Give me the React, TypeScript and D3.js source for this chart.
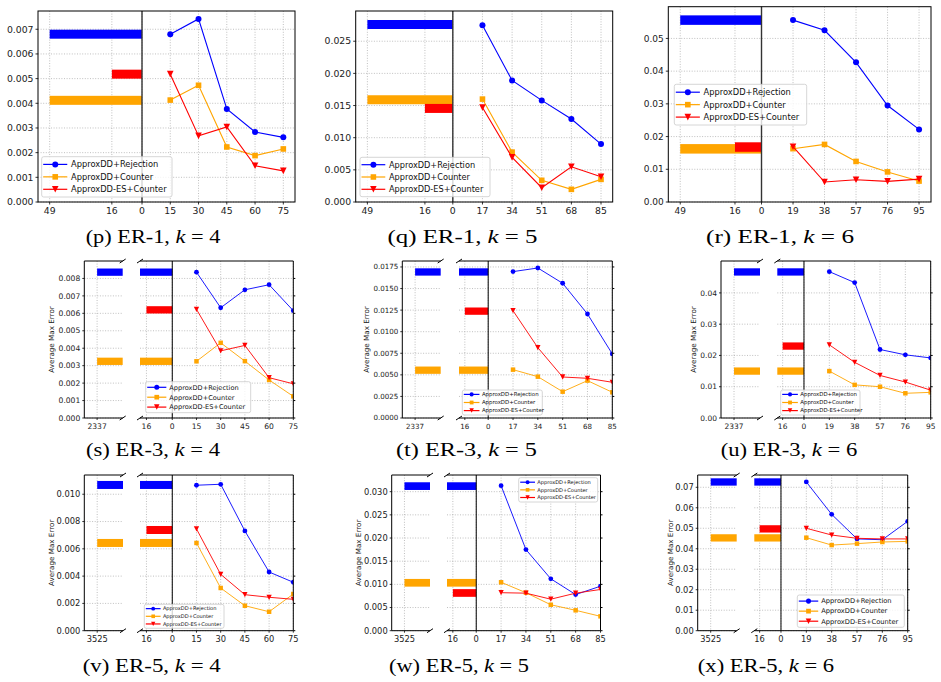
import React from 'react';
import * as d3 from 'd3';

// panels p..x: rows are graphs (ER-1, ER-3, ER-5), columns are k = 4, 5, 6
const panelLetters = ['p', 'q', 'r', 's', 't', 'u', 'v', 'w', 'x'];
const graphNames = ['ER-1', 'ER-3', 'ER-5'];
const kValues = [4, 5, 6];
const xTicksByK = [
  [15, 30, 45, 60, 75],
  [17, 34, 51, 68, 85],
  [19, 38, 57, 76, 95],
];
const fullStart = [49, 2337, 3525]; // where the Rejection / Counter bars start, per graph
const esStart = 16;

const seriesNames = ['ApproxDD+Rejection', 'ApproxDD+Counter', 'ApproxDD-ES+Counter'];
const seriesColors = ['#0000ff', '#ffa500', '#ff0000'];

// Average max error, one list per panel
const rejection = [
  [0.0068, 0.00742, 0.00377, 0.00284, 0.00262],
  [0.0275, 0.0189, 0.0158, 0.0129, 0.009],
  [0.0556, 0.0525, 0.0427, 0.0295, 0.0222],
  [0.00836, 0.00632, 0.00735, 0.00764, 0.00615],
  [0.01696, 0.01738, 0.01561, 0.01205, 0.00742],
  [0.0468, 0.0433, 0.0219, 0.0202, 0.0192],
  [0.01066, 0.01073, 0.00731, 0.0043, 0.00355],
  [0.0313, 0.0175, 0.0112, 0.0078, 0.0096],
  [0.0726, 0.0568, 0.0448, 0.0444, 0.0534],
];
const counter = [
  [0.00413, 0.00473, 0.00223, 0.00188, 0.00215],
  [0.016, 0.00776, 0.00337, 0.00197, 0.00352],
  [0.0163, 0.0176, 0.0124, 0.0092, 0.0064],
  [0.00325, 0.00431, 0.00326, 0.00218, 0.00124],
  [0.0056, 0.00479, 0.00305, 0.00433, 0.00298],
  [0.015, 0.0106, 0.01, 0.0079, 0.0082],
  [0.00643, 0.00313, 0.00183, 0.00139, 0.00269],
  [0.01045, 0.0082, 0.0056, 0.0044, 0.0031],
  [0.0454, 0.0418, 0.0425, 0.0433, 0.0436],
];
const esCounter = [
  [0.00518, 0.00268, 0.00304, 0.00147, 0.00126],
  [0.0147, 0.00694, 0.00222, 0.00548, 0.00393],
  [0.0169, 0.0061, 0.0068, 0.0063, 0.007],
  [0.00623, 0.00385, 0.00416, 0.00231, 0.00196],
  [0.01243, 0.00815, 0.00475, 0.0046, 0.00414],
  [0.0234, 0.0178, 0.0136, 0.0115, 0.0089],
  [0.00746, 0.00413, 0.00264, 0.00245, 0.0023],
  [0.0082, 0.0081, 0.0068, 0.0081, 0.0089],
  [0.05, 0.0467, 0.0451, 0.0448, 0.0448],
];
const barRejection = [0.0068, 0.0276, 0.0556, 0.00836, 0.01692, 0.0467, 0.01068, 0.0312, 0.0726];
const barCounter = [0.00412, 0.0159, 0.01625, 0.00325, 0.00554, 0.015, 0.00643, 0.01034, 0.0453];
const barEs = [0.00518, 0.01455, 0.0168, 0.0062, 0.01238, 0.023, 0.00738, 0.00814, 0.0497];

// y axes
const yTop = [0.00774, 0.0297, 0.0597, 0.009, 0.01819, 0.0502, 0.01141, 0.0336, 0.076];
const yStep = [0.001, 0.005, 0.01, 0.001, 0.0025, 0.01, 0.002, 0.005, 0.01];
const yTickMax = [0.007, 0.025, 0.05, 0.008, 0.0175, 0.04, 0.01, 0.03, 0.07];
const yDecimals = [3, 3, 2, 3, 4, 2, 3, 3, 2];

// layout of each panel (pixels)
const geo = [
  { x0: 38, x1: 295, y0: 11, y1: 202, fs: 9.3, barH: 9, ms: 1, lg: [41.7, 156.7, 130.3, 40.3, 8.3], cap: [153, 243, 134.7] },
  { x0: 355.7, x1: 612.7, y0: 11, y1: 202, fs: 9.3, barH: 9, ms: 1, lg: [360, 157.3, 130, 39.4, 8.2], cap: [462.5, 243, 150] },
  { x0: 668.3, x1: 931, y0: 6.7, y1: 202, fs: 9.0, barH: 9.5, ms: 1, lg: [674.3, 84.3, 132.4, 40.7, 8.3], cap: [780, 243, 148] },
  { lx0: 84.3, lx1: 122.7, x0: 140, x1: 293.3, y0: 261, y1: 418, fs: 7.6, barH: 7.3, ms: 0.8, lg: [145.7, 381.7, 105, 31, 6.6], cap: [153, 456, 134], ylab: 51.7 },
  { lx0: 402.3, lx1: 440.7, x0: 459, x1: 612.3, y0: 261, y1: 418, fs: 7.1, barH: 7.3, ms: 0.8, lg: [462.3, 390, 80, 25, 5.4], cap: [466.5, 456, 141], ylab: 366.7 },
  { lx0: 721, lx1: 760, x0: 777.3, x1: 930.7, y0: 261, y1: 418, fs: 7.5, barH: 7.3, ms: 0.8, lg: [780.7, 390, 79.3, 25, 5.4], cap: [789, 456, 136.6], ylab: 693.3 },
  { lx0: 84.3, lx1: 123, x0: 140, x1: 293.3, y0: 475, y1: 630.7, fs: 8.3, barH: 8, ms: 0.8, lg: [144.3, 604.3, 79.7, 24, 5.1], cap: [151.7, 672, 138], ylab: 51.7 },
  { lx0: 391.7, lx1: 430, x0: 447, x1: 600.5, y0: 475, y1: 630.7, fs: 8.3, barH: 7.7, ms: 0.8, lg: [518.7, 477.7, 79, 24.3, 5.1], cap: [459, 672, 140], ylab: 358.3 },
  { lx0: 697.7, lx1: 736.7, x0: 754.3, x1: 907.7, y0: 475, y1: 630.7, fs: 8.3, barH: 7.3, ms: 0.8, lg: [797.3, 595, 107, 32.3, 6.7], cap: [766, 672, 136.3], ylab: 670.7 },
];

const FONT = '"DejaVu Sans", sans-serif';
const GRID = '#b0b0b0';

function Marker({ kind, x, y, s, color }: { kind: number; x: number; y: number; s: number; color: string }) {
  if (kind === 0) return <circle cx={x} cy={y} r={s * 3} fill={color} />;
  if (kind === 1) return <rect x={x - s * 2.8} y={y - s * 2.8} width={s * 5.6} height={s * 5.6} fill={color} />;
  const h = s * 3.3;
  return <path d={`M${x - h},${y - h}L${x + h},${y - h}L${x},${y + h}Z`} fill={color} />;
}

function Legend({ box, ms }: { box: number[]; ms: number }) {
  const [bx, by, bw, bh, fs] = box;
  const sp = fs * 1.5;
  const pad = (bh - 2 * sp) / 2;
  const hl = fs * 2.9;
  const mk = (fs / 8.3) * (ms === 1 ? 1 : 1.05);
  return (
    <g>
      <rect x={bx} y={by} width={bw} height={bh} rx={2} fill="white" fillOpacity={0.8} stroke="#cccccc" strokeWidth={0.8} />
      {seriesNames.map((name, j) => {
        const cy = by + pad + j * sp;
        return (
          <g key={name}>
            <line x1={bx + 1.5} x2={bx + 1.5 + hl} y1={cy} y2={cy} stroke={seriesColors[j]} strokeWidth={1.2} />
            <Marker kind={j} x={bx + 1.5 + hl / 2} y={cy} s={mk} color={seriesColors[j]} />
            <text x={bx + 1.5 + hl + fs * 0.45} y={cy} dy="0.35em" fontSize={fs} fontFamily={FONT} fill="#111">{name}</text>
          </g>
        );
      })}
    </g>
  );
}

function Panel({ i }: { i: number }) {
  const g: any = geo[i];
  const row = Math.floor(i / 3);
  const col = i % 3;
  const xs = xTicksByK[col];
  const L = fullStart[row];
  const xmax = xs[xs.length - 1];
  const broken = row > 0;

  const y = d3.scaleLinear().domain([0, yTop[i]]).range([g.y1, g.y0]);
  const yTicks = d3.range(0, yTickMax[i] + yStep[i] / 2, yStep[i]);
  const fmt = d3.format(`.${yDecimals[i]}f`);

  let xR: d3.ScaleLinear<number, number>;
  let xL: d3.ScaleLinear<number, number> | null = null;
  if (!broken) {
    const m = 0.05 * (xmax + L);
    xR = d3.scaleLinear().domain([-L - m, xmax + m]).range([g.x0, g.x1]);
  } else {
    xR = d3.scaleLinear().domain([-20, xmax]).range([g.x0, g.x1]);
    xL = d3.scaleLinear().domain([-(L + 10), -(L - 20)]).range([g.lx0, g.lx1]);
  }
  const rightTicks = broken ? [-esStart, 0, ...xs] : [-L, -esStart, 0, ...xs];
  const series = [rejection[i], counter[i], esCounter[i]];
  const bars = [
    { v: barRejection[i], from: -L, c: 0 },
    { v: barCounter[i], from: -L, c: 1 },
    { v: barEs[i], from: -esStart, c: 2 },
  ];
  const lw = row === 0 ? 1.1 : 0.9;
  const tickLen = row === 0 ? 2.5 : 2;
  const xLabY = g.y1 + (row === 0 ? 12 : row === 1 ? 10.5 : 11);
  const yAxisX = broken ? g.lx0 : g.x0;
  const clipR = `clipR${i}`;
  const clipL = `clipL${i}`;

  const drawBars = (sc: d3.ScaleLinear<number, number>, clip: string) => (
    <g clipPath={`url(#${clip})`}>
      {bars.map((b) => (
        <rect key={b.c} x={sc(b.from)} width={sc(0) - sc(b.from)} y={y(b.v) - g.barH / 2} height={g.barH} fill={seriesColors[b.c]} />
      ))}
    </g>
  );

  const line = d3.line<number>().x((_, j) => xR(xs[j])).y((d) => y(d));
  const [cx, cyb, cw] = g.cap;

  return (
    <g>
      <defs>
        <clipPath id={clipR}>
          <rect x={g.x0} y={g.y0} width={g.x1 - g.x0} height={g.y1 - g.y0} />
        </clipPath>
        {broken && (
          <clipPath id={clipL}>
            <rect x={g.lx0} y={g.y0} width={g.lx1 - g.lx0} height={g.y1 - g.y0} />
          </clipPath>
        )}
      </defs>

      {/* grid */}
      <g stroke={GRID} strokeWidth={0.8} strokeDasharray="1,1.6">
        {yTicks.map((t) => (
          <line key={'hr' + t} x1={g.x0} x2={g.x1} y1={y(t)} y2={y(t)} />
        ))}
        {rightTicks.map((t) => (
          <line key={'vr' + t} x1={xR(t)} x2={xR(t)} y1={g.y0} y2={g.y1} />
        ))}
        {broken && xL && (
          <>
            {yTicks.map((t) => (
              <line key={'hl' + t} x1={g.lx0} x2={g.lx1} y1={y(t)} y2={y(t)} />
            ))}
            <line x1={xL(-L)} x2={xL(-L)} y1={g.y0} y2={g.y1} />
          </>
        )}
      </g>

      {/* baseline bars */}
      {drawBars(xR, clipR)}
      {broken && xL && drawBars(xL, clipL)}

      {/* zero line */}
      <line x1={xR(0)} x2={xR(0)} y1={g.y0} y2={g.y1} stroke={row === 0 ? '#333' : '#000'} strokeWidth={row === 0 ? 1.4 : 1} />

      {/* series */}
      <g clipPath={`url(#${clipR})`}>
        {series.map((vals, j) => (
          <g key={j}>
            <path d={line(vals) || ''} fill="none" stroke={seriesColors[j]} strokeWidth={lw} />
            {vals.map((v, n) => (
              <Marker key={n} kind={j} x={xR(xs[n])} y={y(v)} s={g.ms} color={seriesColors[j]} />
            ))}
          </g>
        ))}
      </g>

      {/* spines */}
      <g stroke="#000" strokeWidth={1} fill="none">
        {broken && xL ? (
          <>
            <path d={`M${g.lx1},${g.y0}H${g.lx0}V${g.y1}H${g.lx1}`} />
            <path d={`M${g.x0},${g.y0}H${g.x1}V${g.y1}H${g.x0}`} />
            {[g.y0, g.y1].map((yy) => (
              <g key={yy}>
                <line x1={g.lx1 - 3} y1={yy + 2} x2={g.lx1 + 3} y2={yy - 2} />
                <line x1={g.x0 - 3} y1={yy + 2} x2={g.x0 + 3} y2={yy - 2} />
              </g>
            ))}
            {yTicks.map((t) => (
              <line key={'rt' + t} x1={g.x1} x2={g.x1 + tickLen} y1={y(t)} y2={y(t)} />
            ))}
          </>
        ) : (
          <rect x={g.x0} y={g.y0} width={g.x1 - g.x0} height={g.y1 - g.y0} />
        )}
      </g>

      {/* y axis */}
      <g fontFamily={FONT} fontSize={g.fs} fill="#222">
        {yTicks.map((t) => (
          <g key={'y' + t}>
            <line x1={yAxisX - tickLen} x2={yAxisX} y1={y(t)} y2={y(t)} stroke="#000" strokeWidth={0.8} />
            <text x={yAxisX - tickLen - 2} y={y(t)} dy="0.35em" textAnchor="end">{fmt(t)}</text>
          </g>
        ))}
        {/* x axis */}
        {rightTicks.map((t) => (
          <g key={'x' + t}>
            <line x1={xR(t)} x2={xR(t)} y1={g.y1} y2={g.y1 + tickLen} stroke="#000" strokeWidth={0.8} />
            <text x={xR(t)} y={xLabY} textAnchor="middle">{Math.abs(t)}</text>
          </g>
        ))}
        {broken && xL && (
          <g>
            <line x1={xL(-L)} x2={xL(-L)} y1={g.y1} y2={g.y1 + tickLen} stroke="#000" strokeWidth={0.8} />
            <text x={xL(-L)} y={xLabY} textAnchor="middle">{L}</text>
          </g>
        )}
      </g>

      {broken && (
        <text
          transform={`translate(${g.ylab},${(g.y0 + g.y1) / 2}) rotate(-90)`}
          textAnchor="middle"
          dy="0.35em"
          fontFamily={FONT}
          fontSize={7.2}
          fill="#222"
        >
          Average Max Error
        </text>
      )}

      <Legend box={g.lg} ms={g.ms} />

      <text
        x={cx}
        y={cyb}
        textAnchor="middle"
        fontFamily='"Liberation Serif", serif'
        fontSize={19}
        fill="#000"
        textLength={cw}
        lengthAdjust="spacingAndGlyphs"
      >
        {`(${panelLetters[i]}) ${graphNames[row]}, `}
        <tspan fontStyle="italic">k</tspan>
        {` = ${kValues[col]}`}
      </text>
    </g>
  );
}

export default function App() {
  return (
    <svg width={941} height={682} style={{ position: 'absolute', left: 0, top: 0, background: '#fff' }}>
      <rect width={941} height={682} fill="#fff" />
      {panelLetters.map((_, i) => (
        <Panel key={i} i={i} />
      ))}
    </svg>
  );
}
